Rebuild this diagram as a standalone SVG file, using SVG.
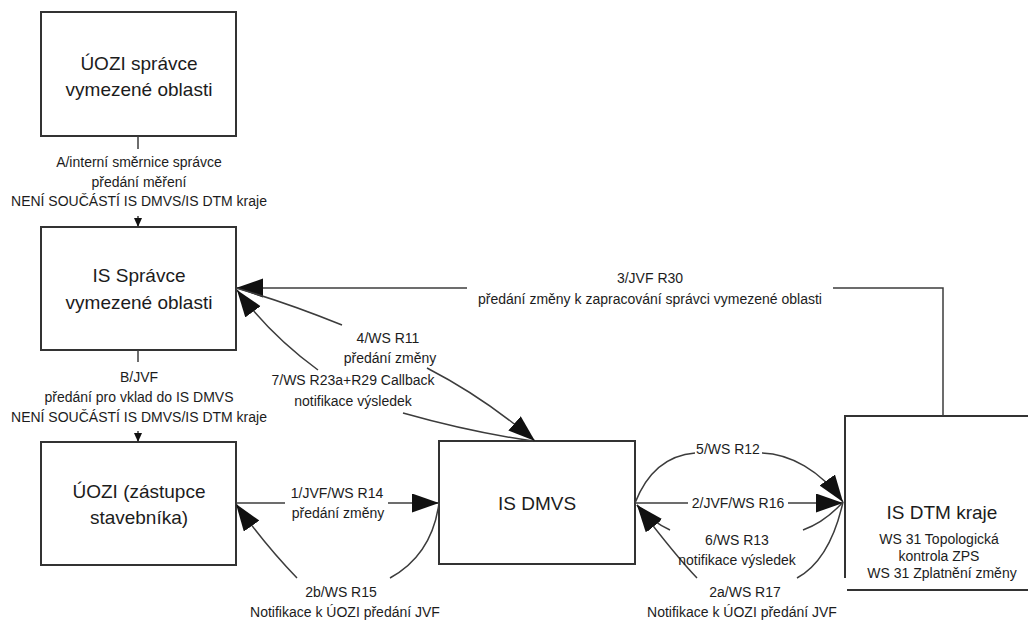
<svg xmlns="http://www.w3.org/2000/svg" width="1028" height="621" viewBox="0 0 1028 621">
<style>
.box{fill:#fff;stroke:#333;stroke-width:2}
.edge{fill:none;stroke:#3c3c3c;stroke-width:1.5}
.t{font-family:"Liberation Sans",Arial,sans-serif;fill:#1c1c1c;text-anchor:middle;dominant-baseline:central}
.big{font-size:19px}
.lbl{font-size:14px}
</style>
<defs>
<marker id="ah" markerUnits="userSpaceOnUse" markerWidth="28" markerHeight="20" refX="27" refY="9.5" orient="auto">
<path d="M0,0 L27,9.5 L0,19 z" fill="#111"/>
</marker>
<marker id="as" markerUnits="userSpaceOnUse" markerWidth="10" markerHeight="9" refX="9" refY="4" orient="auto">
<path d="M0,0 L9,4 L0,8 z" fill="#111"/>
</marker>
</defs>
<rect width="1028" height="621" fill="#fff"/>

<g id="uozi-spravce">
<rect class="box" x="41" y="12" width="195" height="124"/>
<text class="t big" x="139" y="63">ÚOZI správce</text>
<text class="t big" x="139" y="89">vymezené oblasti</text>
</g>
<g id="is-spravce">
<rect class="box" x="41" y="227" width="195" height="123"/>
<text class="t big" x="139" y="275">IS Správce</text>
<text class="t big" x="139" y="302">vymezené oblasti</text>
</g>
<g id="uozi-zastupce">
<rect class="box" x="41" y="442" width="195" height="123"/>
<text class="t big" x="139" y="491">ÚOZI (zástupce</text>
<text class="t big" x="139" y="517">stavebníka)</text>
</g>
<g id="is-dmvs">
<rect class="box" x="439" y="441" width="196" height="123"/>
<text class="t big" x="537" y="503">IS DMVS</text>
</g>
<g id="is-dtm">
<rect x="845" y="416" width="190" height="174" fill="#fff"/>
<path d="M845,578 V416 H1030 M847,590 H1030" fill="none" stroke="#333" stroke-width="2"/>
<text class="t big" x="942" y="512">IS DTM kraje</text>
<text class="t lbl" x="939" y="539">WS 31 Topologická</text>
<text class="t lbl" x="939" y="556">kontrola ZPS</text>
<text class="t lbl" x="942" y="573">WS 31 Zplatnění změny</text>
</g>

<g id="connectors">
<!-- A -->
<path class="edge" d="M138,136 V149"/>
<path class="edge" d="M138,216 V227" marker-end="url(#as)"/>
<!-- B -->
<path class="edge" d="M138,350 V362"/>
<path class="edge" d="M138,431 V442" marker-end="url(#as)"/>
<!-- 3/JVF R30 -->
<path class="edge" d="M943,416 V288 H833"/>
<path class="edge" d="M467,288 H236" marker-end="url(#ah)"/>
<!-- 4/WS R11 -->
<path class="edge" d="M236,288 Q285,302 342,325"/>
<path class="edge" d="M427,368 Q485,398 535,441" marker-end="url(#ah)"/>
<!-- 7/WS R23a+R29 -->
<path class="edge" d="M533,441 Q470,432 403,413"/>
<path class="edge" d="M318,370 Q270,335 237,290" marker-end="url(#ah)"/>
<!-- 1/JVF/WS R14 -->
<path class="edge" d="M236,503 H285"/>
<path class="edge" d="M388,503 H439" marker-end="url(#ah)"/>
<!-- 2b/WS R15 -->
<path class="edge" d="M439,503 Q432,555 390,578"/>
<path class="edge" d="M297,578 Q265,545 236,504" marker-end="url(#ah)"/>
<!-- 5/WS R12 -->
<path class="edge" d="M635,503 C648,470 670,455 695,453"/>
<path class="edge" d="M762,453 C790,454 820,470 843,502" marker-end="url(#ah)"/>
<!-- 2/JVF/WS R16 -->
<path class="edge" d="M635,503 H688"/>
<path class="edge" d="M788,503 H843" marker-end="url(#ah)"/>
<!-- 6/WS R13 -->
<path class="edge" d="M843,502 Q825,522 803,530"/>
<path class="edge" d="M670,530 Q652,522 637,505" marker-end="url(#ah)"/>
<!-- 2a/WS R17 -->
<path class="edge" d="M843,502 Q830,560 797,578"/>
<path class="edge" d="M697,578 Q675,555 637,505" marker-end="url(#ah)"/>
</g>

<g id="labels">
<text class="t lbl" x="139" y="162">A/interní směrnice správce</text>
<text class="t lbl" x="139" y="182">předání měření</text>
<text class="t lbl" x="139" y="201">NENÍ SOUČÁSTÍ IS DMVS/IS DTM kraje</text>
<text class="t lbl" x="139" y="377">B/JVF</text>
<text class="t lbl" x="139" y="397">předání pro vklad do IS DMVS</text>
<text class="t lbl" x="139" y="417">NENÍ SOUČÁSTÍ IS DMVS/IS DTM kraje</text>
<text class="t lbl" x="650" y="278">3/JVF R30</text>
<text class="t lbl" x="650" y="299">předání změny k zapracování správci vymezené oblasti</text>
<text class="t lbl" x="388" y="338">4/WS R11</text>
<text class="t lbl" x="390" y="358">předání změny</text>
<text class="t lbl" x="353" y="380">7/WS R23a+R29 Callback</text>
<text class="t lbl" x="353" y="401">notifikace výsledek</text>
<text class="t lbl" x="337" y="493">1/JVF/WS R14</text>
<text class="t lbl" x="338" y="513">předání změny</text>
<text class="t lbl" x="341" y="592">2b/WS R15</text>
<text class="t lbl" x="345" y="612">Notifikace k ÚOZI předání JVF</text>
<text class="t lbl" x="728" y="449">5/WS R12</text>
<text class="t lbl" x="738" y="503">2/JVF/WS R16</text>
<text class="t lbl" x="737" y="540">6/WS R13</text>
<text class="t lbl" x="737" y="560">notifikace výsledek</text>
<text class="t lbl" x="745" y="592">2a/WS R17</text>
<text class="t lbl" x="742" y="612">Notifikace k ÚOZI předání JVF</text>
</g>
</svg>
